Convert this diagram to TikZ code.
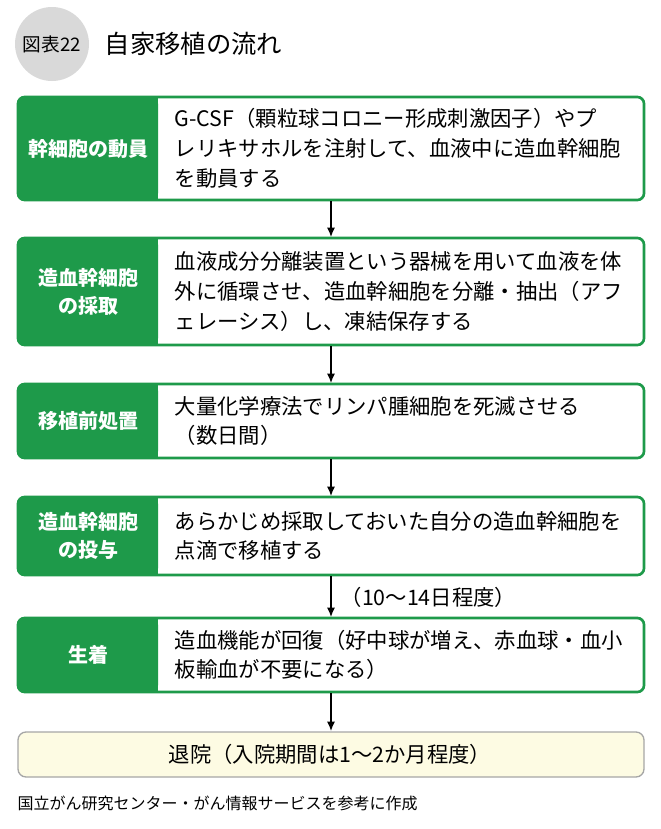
\documentclass[tikz,border=0pt]{standalone}
\usepackage{fontspec}
\usetikzlibrary{arrows.meta}
\setmainfont{Noto Sans CJK JP}
\definecolor{gr}{HTML}{1E9A4A}
\definecolor{yl}{HTML}{FDFBE3}
\begin{document}
\begin{tikzpicture}[x=0.75pt,y=-0.75pt,
 outer/.style={draw=gr,line width=2pt,rounded corners=5pt},
 lab/.style={text=white,font=\fontsize{15}{21}\selectfont\bfseries,align=center},
 body/.style={anchor=west,align=left,font=\fontsize{16}{22.3}\selectfont},
 arr/.style={-{Latex[length=7pt,width=6pt]},line width=0.9pt}]
\useasboundingbox (0,0) rectangle (661,829);
\fill[gray!30] (52,44) circle (37);
\node (hd) at (52,44) {\fontsize{14}{16}\selectfont 図表22};
\node[anchor=west] (ti) at (100,44) {\fontsize{19}{22}\selectfont 自家移植の流れ};
\newcommand\stp[5]{%
 \fill[gr,rounded corners=5pt] (18,#1) rectangle (158,#2);
 \fill[gr] (140,#1) rectangle (158,#2);
 \draw[outer] (18,#1) rectangle (644,#2);
 \node[lab] (#5l) at (88,{(#1+#2)/2}) {#3};
 \node[body] (#5) at (170,{(#1+#2)/2}) {#4};}
\stp{97}{200}{幹細胞の動員}{G-CSF（顆粒球コロニー形成刺激因子）やプ\\レリキサホルを注射して、血液中に造血幹細胞\\を動員する}{a}
\stp{238}{345}{造血幹細胞\\の採取}{血液成分分離装置という器械を用いて血液を体\\外に循環させ、造血幹細胞を分離・抽出（アフ\\ェレーシス）し、凍結保存する}{b}
\stp{384}{458}{移植前処置}{大量化学療法でリンパ腫細胞を死滅させる\\（数日間）}{c}
\stp{497}{575}{造血幹細胞\\の投与}{あらかじめ採取しておいた自分の造血幹細胞を\\点滴で移植する}{d}
\stp{618}{692}{生着}{造血機能が回復（好中球が増え、赤血球・血小\\板輸血が不要になる）}{e}
\draw[draw=gray!70,fill=yl,line width=1pt,rounded corners=6pt] (18,732) rectangle (644,777);
\node (f) at (330,754) {\fontsize{16}{18}\selectfont 退院（入院期間は1〜2か月程度）};
\coordinate (a1) at (331,201); \coordinate (b0) at (331,237);
\coordinate (b1) at (331,346); \coordinate (c0) at (331,383);
\coordinate (c1) at (331,459); \coordinate (d0) at (331,496);
\coordinate (d1) at (331,576); \coordinate (e0) at (331,617);
\coordinate (e1) at (331,693); \coordinate (f0) at (331,731);
\draw[arr] (a1)--(b0); \draw[arr] (b1)--(c0); \draw[arr] (c1)--(d0);
\draw[arr] (d1)--(e0); \draw[arr] (e1)--(f0);
\node[anchor=west] (n) at (336,597) {\fontsize{16}{18}\selectfont （10〜14日程度）};
\node[anchor=west] (src) at (13,803) {\fontsize{12}{14}\selectfont 国立がん研究センター・がん情報サービスを参考に作成};
\end{tikzpicture}
\end{document}
